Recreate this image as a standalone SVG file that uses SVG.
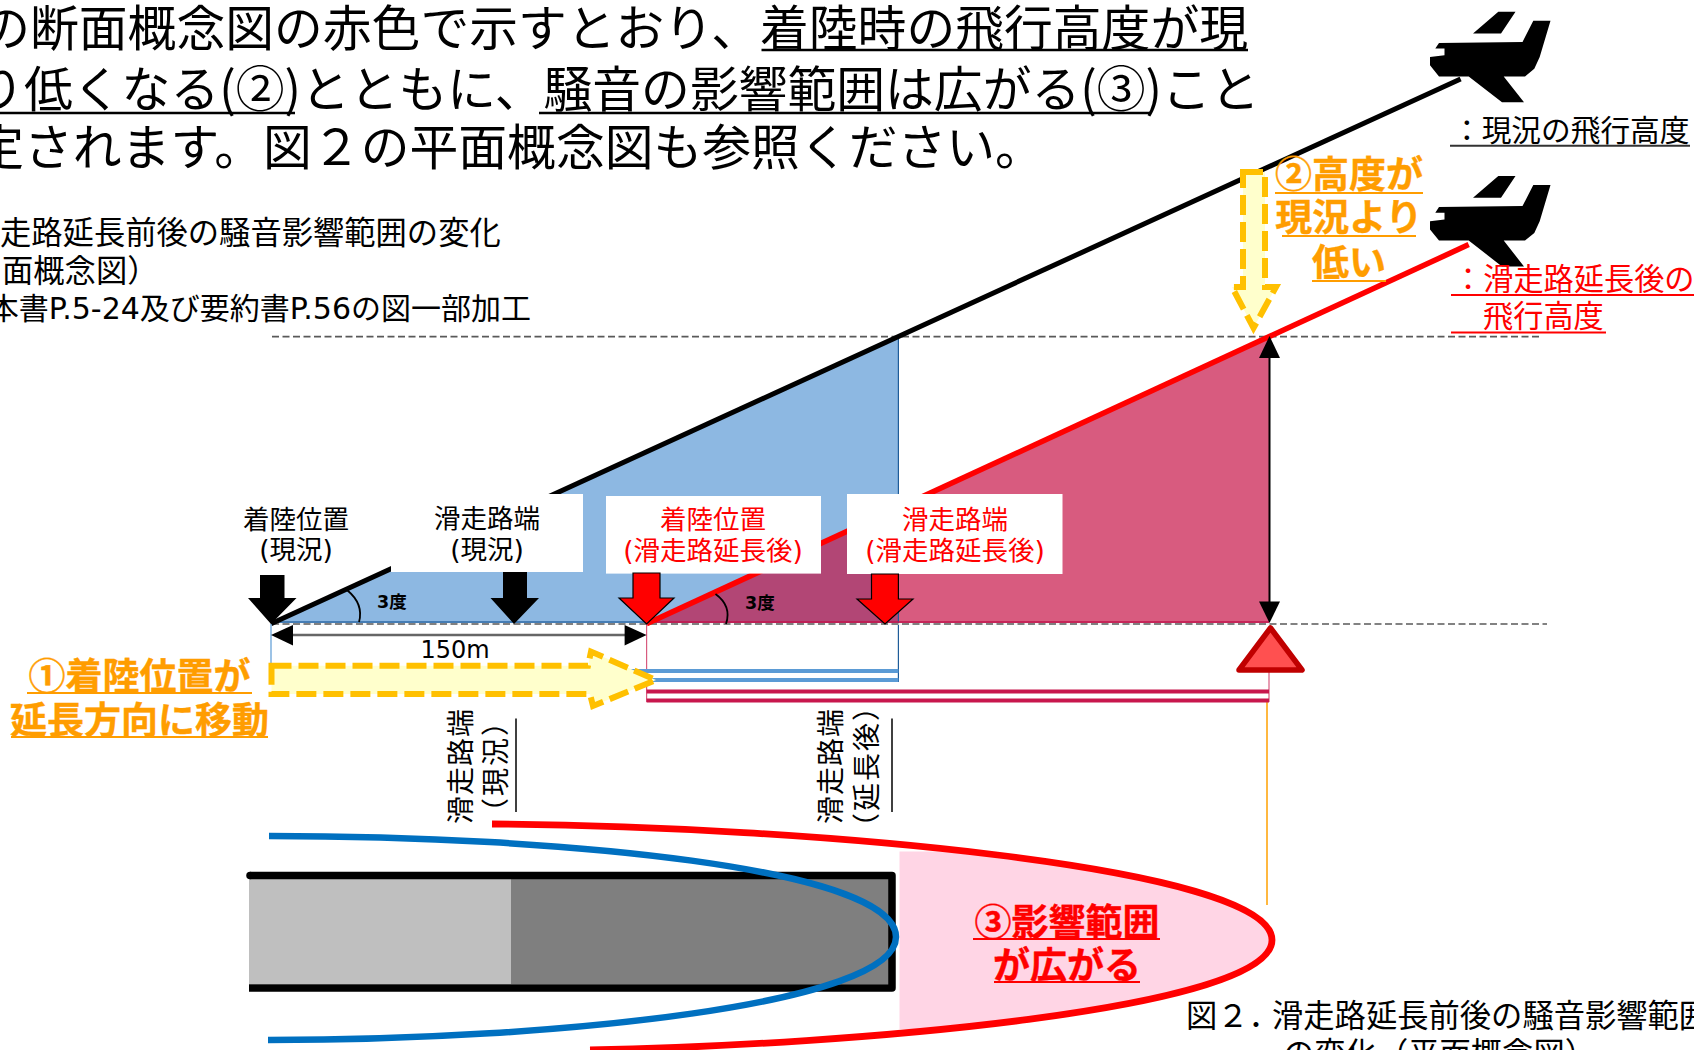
<svg xmlns="http://www.w3.org/2000/svg" xmlns:xlink="http://www.w3.org/1999/xlink" width="1694" height="1050" viewBox="0 0 1694 1050">
<style>
text{font-family:"DejaVu Sans","Noto Sans CJK JP",sans-serif;fill:#000}
.n{font-family:"Noto Sans CJK JP",sans-serif}
.h{font-size:48.8px;font-family:"Noto Sans CJK JP",sans-serif}
.s{font-size:31.3px}
.l{font-size:26.5px;text-anchor:middle}
.r{fill:#f00}
.o{fill:#ff9d00;font-weight:bold;font-size:37px;text-anchor:middle;stroke:#ff9d00;stroke-width:.4;font-family:"Noto Sans CJK JP",sans-serif}
.u{stroke:#000;stroke-width:2.5;fill:none}
.d{stroke:#595959;stroke-width:1.6;stroke-dasharray:7 3.5;fill:none}
.v{font-size:28px;text-anchor:middle}
.y{fill:#ffffcc;stroke:#ffc000;stroke-width:6;stroke-dasharray:20 7}
</style>
<defs>
<path id="plane" d="M1498.3,11.7H1515.5L1501,33.5H1473ZM1533.3,20.8H1550.5L1539.7,57L1534.3,68.7L1525,76.4H1503.7L1524,102.2H1502L1468.7,76.4H1439L1430,65.3V57L1444.5,55.3V48.6H1435.3L1439,42.9L1522.5,41.9Z" fill="#000"/>
<clipPath id="pk"><rect x="899.5" y="851.6" width="500" height="177.4"/></clipPath>
</defs>
<g id="section-fills">
<polygon points="271,623.8 898.4,336 898.4,623.8" fill="#8db8e2"/>
<polygon points="646.6,623.8 1269,336 1269,623.8" fill="#d85b7f"/>
<polygon points="646.6,623.8 898.4,507.4 898.4,623.8" fill="#b24675"/>
<line x1="898.4" y1="336" x2="898.4" y2="682" stroke="#1f5c99" stroke-width="1.2"/>
<line x1="271" y1="622" x2="646.6" y2="622" stroke="#2f6aa5" stroke-width="1.6"/>
<line x1="646.6" y1="622" x2="1269" y2="622" stroke="#c0144c" stroke-width="1.6"/>
<line x1="271" y1="624" x2="1269" y2="624" stroke="#f4f4f4" stroke-width="2"/>
</g>
<g id="connectors" fill="none">
<line class="d" x1="272" y1="336.6" x2="1540" y2="336.6"/>
<line class="d" x1="272" y1="624" x2="1547" y2="624"/>
<line x1="271" y1="623.8" x2="1460.6" y2="79" stroke="#000" stroke-width="5"/>
<line x1="646.6" y1="623.8" x2="1468.7" y2="244.6" stroke="#f00" stroke-width="5.5"/>
<line x1="271" y1="624" x2="271" y2="664" stroke="#5b9bd5" stroke-width="1.2"/>
<line x1="646.6" y1="624" x2="646.6" y2="702" stroke="#d85b7f" stroke-width="1.2"/>
<line x1="1269" y1="672" x2="1269" y2="702" stroke="#d85b7f" stroke-width="1.2"/>
<line x1="1267" y1="702" x2="1267" y2="905" stroke="#ffa000" stroke-width="1.5"/>
<line x1="1269.5" y1="350" x2="1269.5" y2="610" stroke="#000" stroke-width="2"/>
<polygon points="1269.5,336 1280,358 1259,358" fill="#000"/>
<polygon points="1269.5,623 1280,601.4 1259,601.4" fill="#000"/>
<line x1="285" y1="635" x2="630" y2="635" stroke="#666" stroke-width="2.5"/>
<polygon points="271,635 293,625 293,645.6" fill="#000"/>
<polygon points="646.6,635 624.6,625 624.6,645.6" fill="#000"/>
<path d="M347,590Q364,604 359,622" stroke="#000" stroke-width="1.8"/>
<path d="M715.5,594Q732,606 726,624" stroke="#000" stroke-width="1.8"/>
<rect x="631" y="669" width="267.4" height="4" fill="#5b9bd5"/>
<rect x="646.6" y="678" width="251.8" height="4" fill="#5b9bd5"/>
<rect x="646.6" y="689.5" width="622.4" height="4" fill="#c8174d"/>
<rect x="646.6" y="698.5" width="622.4" height="4" fill="#c8174d"/>
</g>
<g id="label-boxes" fill="#fff">
<rect x="391" y="494" width="192" height="78"/>
<rect x="606" y="496" width="215" height="77.6"/>
<rect x="847" y="494" width="215.5" height="80"/>
</g>
<g id="marker-arrows">
<polygon id="arrow-a" points="260,575 284.5,575 284.5,598 296.5,598 271,624 248,598 260,598" fill="#000"/>
<polygon id="arrow-b" points="503,572 527,572 527,598 539,598 514,624 490.5,598 503,598" fill="#000"/>
<polygon id="arrow-c" points="633,573 660,573 660,598 674,598 646.6,624 619,598 633,598" fill="#f00" stroke="#000" stroke-width="1.2"/>
<polygon id="arrow-d" points="871.5,574 898.4,574 898.4,599 913,599 885,624 857,599 871.5,599" fill="#f00" stroke="#000" stroke-width="1.2"/>
</g>
<g id="planes">
<use xlink:href="#plane" href="#plane"/>
<use xlink:href="#plane" href="#plane" y="164.2"/>
</g>
<g id="station"><polygon points="1270.5,628 1302,670 1239,670" fill="#ff5050" stroke="#c00000" stroke-width="5.5" stroke-linejoin="round"/></g>
<g id="plan-view">
<rect x="249" y="879" width="262" height="105" fill="#bfbfbf"/>
<rect x="511" y="879" width="378" height="105" fill="#7f7f7f"/>
<path d="M250,875.5H892V988H249" fill="none" stroke="#000" stroke-width="7.5" stroke-linejoin="round"/>
<circle cx="250" cy="875.5" r="3.75" fill="#000"/>
<path d="M492,824C800,826 1272,866 1272,940C1272,1010 850,1045 590,1050V824Z" fill="#ffd5e5" clip-path="url(#pk)"/>
<path d="M269,836C560,836 896,868 896,937C896,1004 560,1040 268,1040" fill="none" stroke="#0070c0" stroke-width="6.5"/>
<path d="M492,824C800,826 1272,866 1272,940C1272,1010 850,1045 590,1050" fill="none" stroke="#f00" stroke-width="6.8"/>
</g>
<g id="move-arrows">
<polygon class="y" points="271.5,665.7 588,665.7 591,651.6 656,680 593,706 590,694 271.5,694"/>
<polygon class="y" points="1243,172 1265,172 1265,287 1276,287 1253.5,328 1232,287 1243,287"/>
</g>
<g id="heading">
<text class="h" x="-18.8" y="46">の断面概念図の赤色で示すとおり、着陸時の飛行高度が現</text>
<text class="h" x="-24.8" y="107">り低くなる(②)とともに、騒音の影響範囲は広がる(③)こと</text>
<text class="h" x="-24.8" y="165">定されます。図２の平面概念図も参照ください。</text>
<line class="u" x1="761.5" y1="50" x2="1248" y2="50"/>
<line class="u" x1="0" y1="113" x2="295" y2="113"/>
<line class="u" x1="539" y1="113" x2="1151" y2="113"/>
</g>
<g id="caption-1">
<text class="s" x="0" y="244">走路延長前後の騒音影響範囲の変化</text>
<text class="s" x="2" y="282">面概念図）</text>
<text x="531" y="319" font-size="30" text-anchor="end">本書P.5-24及び要約書P.56の図一部加工</text>
</g>
<g id="labels-section">
<text class="l" x="296" y="529">着陸位置</text><text class="l" x="296" y="559">(現況)</text>
<text class="l" x="487" y="528">滑走路端</text><text class="l" x="487" y="559">(現況)</text>
<text class="l r" x="713" y="529">着陸位置</text><text class="l r" x="713" y="560">(滑走路延長後)</text>
<text class="l r" x="955" y="529">滑走路端</text><text class="l r" x="955" y="560">(滑走路延長後)</text>
<text x="377" y="608" font-size="17.5" font-weight="bold">3度</text>
<text x="745" y="609" font-size="17.5" font-weight="bold">3度</text>
<text x="455" y="658" font-size="24" text-anchor="middle">150m</text>
</g>
<g id="callout-1">
<text class="o" x="139.5" y="690">①着陸位置が</text>
<text class="o" x="139.5" y="734">延長方向に移動</text>
<line x1="27" y1="693" x2="252" y2="693" stroke="#ff9d00" stroke-width="2"/>
<line x1="11" y1="737" x2="268" y2="737" stroke="#ff9d00" stroke-width="2"/>
</g>
<g id="callout-2">
<text class="o" x="1349" y="188">②高度が</text>
<text class="o" x="1349" y="231">現況より</text>
<text class="o" x="1349" y="276">低い</text>
<line x1="1275" y1="193" x2="1423" y2="193" stroke="#ff9d00" stroke-width="2"/>
<line x1="1282" y1="236" x2="1416" y2="236" stroke="#ff9d00" stroke-width="2"/>
<line x1="1312" y1="281" x2="1386" y2="281" stroke="#ff9d00" stroke-width="2"/>
</g>
<g id="legend">
<text x="1452" y="141" font-size="29.7">：現況の飛行高度</text>
<line x1="1450" y1="145.7" x2="1690" y2="145.7" stroke="#333" stroke-width="2"/>
<text class="r" x="1453" y="290" font-size="30.2">：滑走路延長後の</text>
<line x1="1451" y1="295" x2="1694" y2="295" stroke="#f00" stroke-width="2"/>
<text class="r" x="1483" y="327" font-size="30.2">飛行高度</text>
<line x1="1451" y1="332.6" x2="1606" y2="332.6" stroke="#f00" stroke-width="2"/>
</g>
<g id="vertical-labels">
<text class="v" transform="translate(471,766) rotate(-90)" letter-spacing="1">滑走路端</text>
<text class="v" transform="translate(506,766) rotate(-90)" letter-spacing="2">（現況）</text>
<line x1="516" y1="718.6" x2="516" y2="812" stroke="#000" stroke-width="1.5"/>
<text class="v" transform="translate(841,766) rotate(-90)" letter-spacing="1">滑走路端</text>
<text class="v" transform="translate(877,766) rotate(-90)" letter-spacing="2">（延長後）</text>
<line x1="892" y1="718.6" x2="892" y2="812" stroke="#000" stroke-width="1.5"/>
</g>
<g id="callout-3">
<text class="o" x="1067" y="936" style="fill:#f00;stroke:#f00">③影響範囲</text>
<text class="o" x="1067" y="979" style="fill:#f00;stroke:#f00">が広がる</text>
<line x1="973" y1="939" x2="1160" y2="939" stroke="#f00" stroke-width="2"/>
<line x1="994" y1="982" x2="1140" y2="982" stroke="#f00" stroke-width="2"/>
</g>
<g id="caption-2">
<text class="s" x="1186" y="1027">図２．<tspan x="1272">滑走路延長前後の騒音影響範囲</tspan></text>
<text class="s" x="1283" y="1065">の変化（平面概念図）</text>
</g>
</svg>
